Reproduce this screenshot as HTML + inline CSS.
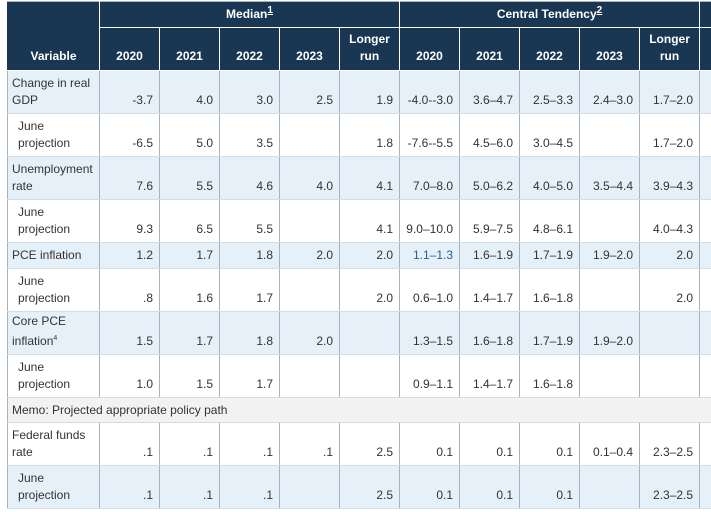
<!DOCTYPE html>
<html><head><meta charset="utf-8"><style>
html,body{margin:0;padding:0;background:#fff;width:711px;height:512px;overflow:hidden}
table{position:absolute;left:7px;top:1px;border-collapse:collapse;table-layout:fixed;width:704px;font-family:"Liberation Sans",Arial,sans-serif;font-size:12px;color:#333}
td,th{border-left:1px solid #a8b2bc;border-right:1px solid #a8b2bc;border-top:1px solid #d3dbe3;border-bottom:1px solid #d3dbe3;padding:0 6px 4px 4px;line-height:17px;vertical-align:bottom;text-align:right;overflow:hidden;white-space:nowrap;box-sizing:border-box}
th{background:#193653;color:#fff;font-weight:bold;text-align:center;border-color:#fff;border-top:1px solid #a8b2bc;padding-right:4px}
thead tr:first-child th{border-bottom:1px solid #fff;vertical-align:middle;padding:0}
th sup{font-size:10px;text-decoration:underline;vertical-align:baseline;position:relative;top:-5px}
td.v{text-align:left;white-space:normal;padding-left:4px}
td.j{padding-left:10px}
tr.b td{background:#e6f0f9}
tr.g td{background:#f2f2f2}
.h43{height:43px}.h26{height:26px}
sup.s{font-size:7px}
.bl{color:#2a5d9a}
</style></head><body>
<table>
<colgroup><col style="width:92px"><col style="width:60px"><col style="width:60px"><col style="width:60px"><col style="width:60px"><col style="width:60px"><col style="width:60px"><col style="width:60px"><col style="width:60px"><col style="width:60px"><col style="width:60px"><col style="width:12px"></colgroup>
<thead>
<tr style="height:26px"><th rowspan="2" style="vertical-align:bottom;padding-bottom:5px;border-left:1px solid #193653">Variable</th><th colspan="5">Median<sup>1</sup></th><th colspan="5">Central Tendency<sup>2</sup></th><th></th></tr>
<tr style="height:43px"><th style="padding-bottom:5px">2020</th><th style="padding-bottom:5px">2021</th><th style="padding-bottom:5px">2022</th><th style="padding-bottom:5px">2023</th><th style="padding-bottom:5px">Longer<br>run</th><th style="padding-bottom:5px">2020</th><th style="padding-bottom:5px">2021</th><th style="padding-bottom:5px">2022</th><th style="padding-bottom:5px">2023</th><th style="padding-bottom:5px">Longer<br>run</th><th></th></tr>
</thead>
<tbody>
<tr class="b h43"><td class="v">Change in real GDP</td><td>-3.7</td><td>4.0</td><td>3.0</td><td>2.5</td><td>1.9</td><td>-4.0--3.0</td><td>3.6–4.7</td><td>2.5–3.3</td><td>2.4–3.0</td><td>1.7–2.0</td><td></td></tr>
<tr class="h43"><td class="v j">June projection</td><td>-6.5</td><td>5.0</td><td>3.5</td><td></td><td>1.8</td><td>-7.6--5.5</td><td>4.5–6.0</td><td>3.0–4.5</td><td></td><td>1.7–2.0</td><td></td></tr>
<tr class="b h43"><td class="v">Unemployment rate</td><td>7.6</td><td>5.5</td><td>4.6</td><td>4.0</td><td>4.1</td><td>7.0–8.0</td><td>5.0–6.2</td><td>4.0–5.0</td><td>3.5–4.4</td><td>3.9–4.3</td><td></td></tr>
<tr class="h43"><td class="v j">June projection</td><td>9.3</td><td>6.5</td><td>5.5</td><td></td><td>4.1</td><td>9.0–10.0</td><td>5.9–7.5</td><td>4.8–6.1</td><td></td><td>4.0–4.3</td><td></td></tr>
<tr class="b h26"><td class="v">PCE inflation</td><td>1.2</td><td>1.7</td><td>1.8</td><td>2.0</td><td>2.0</td><td class="bl">1.1–1.3</td><td>1.6–1.9</td><td>1.7–1.9</td><td>1.9–2.0</td><td>2.0</td><td></td></tr>
<tr class="h43"><td class="v j">June projection</td><td>.8</td><td>1.6</td><td>1.7</td><td></td><td>2.0</td><td>0.6–1.0</td><td>1.4–1.7</td><td>1.6–1.8</td><td></td><td>2.0</td><td></td></tr>
<tr class="b h43"><td class="v">Core PCE inflation<sup class="s">4</sup></td><td>1.5</td><td>1.7</td><td>1.8</td><td>2.0</td><td></td><td>1.3–1.5</td><td>1.6–1.8</td><td>1.7–1.9</td><td>1.9–2.0</td><td></td><td></td></tr>
<tr class="h43"><td class="v j">June projection</td><td>1.0</td><td>1.5</td><td>1.7</td><td></td><td></td><td>0.9–1.1</td><td>1.4–1.7</td><td>1.6–1.8</td><td></td><td></td><td></td></tr>
<tr class="g" style="height:25px"><td colspan="12" style="text-align:left;vertical-align:middle;padding:0 4px">Memo: Projected appropriate policy path</td></tr>
<tr class="h43"><td class="v">Federal funds rate</td><td>.1</td><td>.1</td><td>.1</td><td>.1</td><td>2.5</td><td>0.1</td><td>0.1</td><td>0.1</td><td>0.1–0.4</td><td>2.3–2.5</td><td></td></tr>
<tr class="b h43"><td class="v j">June projection</td><td>.1</td><td>.1</td><td>.1</td><td></td><td>2.5</td><td>0.1</td><td>0.1</td><td>0.1</td><td></td><td>2.3–2.5</td><td></td></tr>
</tbody>
</table>
</body></html>
